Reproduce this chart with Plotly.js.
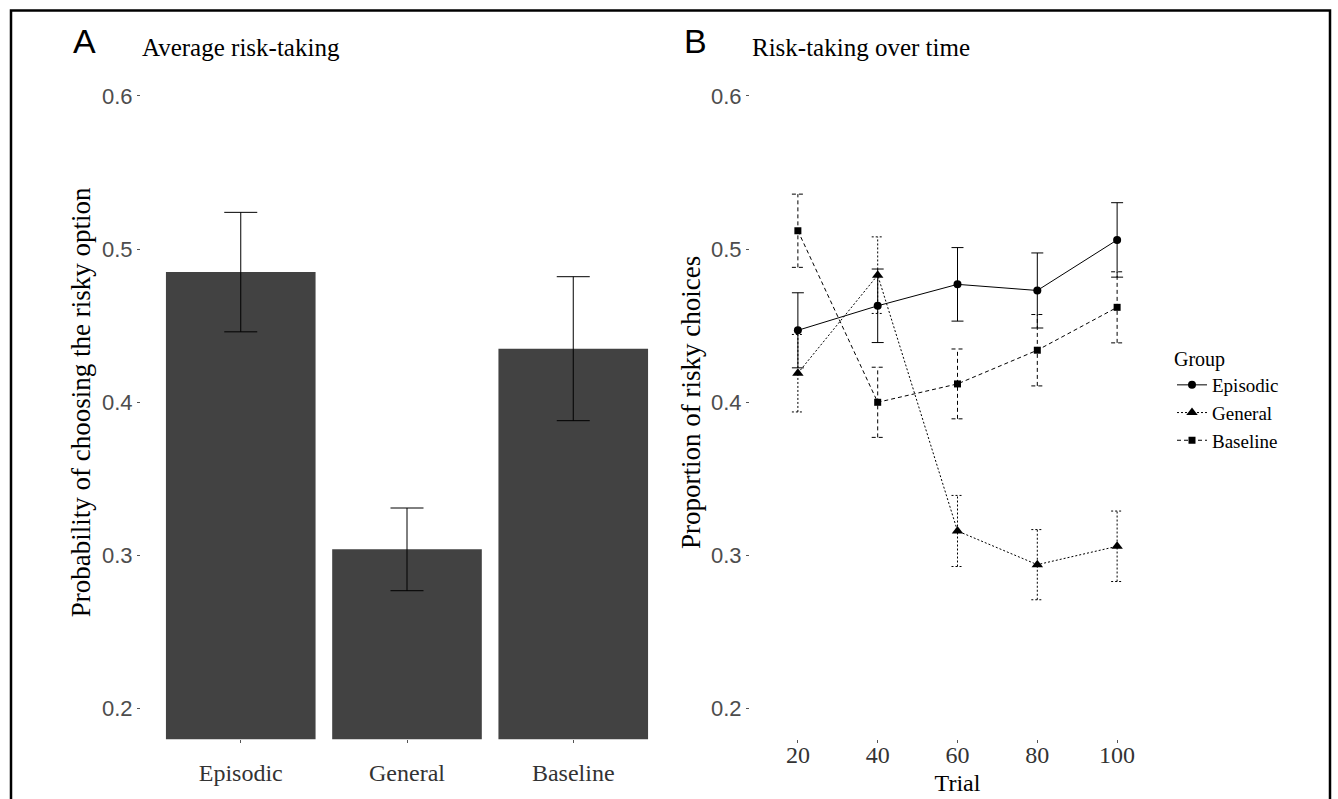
<!DOCTYPE html>
<html>
<head>
<meta charset="utf-8">
<script src="https://cdn.plot.ly/plotly-3.0.1.min.js"></script>
<style>html,body{margin:0;padding:0;background:#fff;}#chart{width:1338px;height:799px;}</style>
</head>
<body>
<div id="chart"></div>
<script>
// ---- data ----
const categories = ['Episodic', 'General', 'Baseline'];
const barMeans = [0.485, 0.304, 0.435];
const barSE = [0.039, 0.027, 0.047];

const trials = [20, 40, 60, 80, 100];
const episodic = [0.447, 0.463, 0.477, 0.473, 0.506];
const episodicSE = [0.0245, 0.024, 0.024, 0.0245, 0.0243];
const general = [0.419, 0.483, 0.316, 0.294, 0.306];
const generalSE = [0.0253, 0.025, 0.0232, 0.0229, 0.023];
const baseline = [0.512, 0.400, 0.412, 0.434, 0.462];
const baselineSE = [0.0239, 0.0229, 0.0228, 0.0233, 0.0232];

const yTicks = [0.2, 0.3, 0.4, 0.5, 0.6];

// ---- styles ----
const SERIF = 'Liberation Serif, Times New Roman, serif';
const SANS = 'Liberation Sans, Arial, sans-serif';
const W = 1338, H = 799;
const px = v => v / W;
const py = v => (H - v) / H;

function errTrace(xs, ys, se, dash, group) {
  const cap = 1.5;
  const X = [], Y = [];
  xs.forEach((x, i) => {
    const lo = ys[i] - se[i], hi = ys[i] + se[i];
    X.push(x, x, null, x - cap, x + cap, null, x - cap, x + cap, null);
    Y.push(lo, hi, null, hi, hi, null, lo, lo, null);
  });
  return {
    x: X, y: Y, xaxis: 'x2', yaxis: 'y2', mode: 'lines', type: 'scatter',
    line: {color: '#000', width: 1, dash: dash}, showlegend: false,
    legendgroup: group, hoverinfo: 'skip'
  };
}

const groups = [
  {name: 'Episodic', y: episodic, se: episodicSE, dash: 'solid', symbol: 'circle', size: 8},
  {name: 'General', y: general, se: generalSE, dash: '2px,2px', symbol: 'triangle-up', size: 10},
  {name: 'Baseline', y: baseline, se: baselineSE, dash: '4px,3px', symbol: 'square', size: 7}
];

const data = [{
  type: 'bar', x: categories, y: barMeans, xaxis: 'x', yaxis: 'y',
  marker: {color: '#424242'}, width: 0.9, showlegend: false,
  error_y: {type: 'data', array: barSE, visible: true, color: '#000', thickness: 1, width: 16.5}
}];

groups.forEach(g => {
  data.push(errTrace(trials, g.y, g.se, g.dash, g.name));
});
groups.forEach(g => {
  data.push({
    type: 'scatter', mode: 'lines+markers', name: g.name, x: trials, y: g.y,
    xaxis: 'x2', yaxis: 'y2', legendgroup: g.name,
    line: {color: '#000', width: 1, dash: g.dash},
    marker: {color: '#000', symbol: g.symbol, size: g.size}
  });
});

const yDomain = [py(739.3), py(65.3)];
const commonY = {
  domain: yDomain, range: [0.18, 0.62], tickvals: yTicks, tickformat: '.1f',
  showgrid: false, zeroline: false, showline: false,
  ticks: 'outside', ticklen: 3, tickcolor: '#555', tickwidth: 1,
  tickfont: {family: SANS, size: 22, color: '#4d4d4d'}
};

const layout = {
  width: W, height: H,
  margin: {l: 0, r: 0, t: 0, b: 0},
  paper_bgcolor: '#fff', plot_bgcolor: '#fff',
  showlegend: true,
  xaxis: {
    domain: [px(141), px(673)], anchor: 'y', type: 'category', range: [-0.6, 2.6],
    showgrid: false, zeroline: false, showline: false,
    ticks: 'outside', ticklen: 3, tickcolor: '#555',
    tickfont: {family: SERIF, size: 24, color: '#333'}, ticklabelstandoff: 9
  },
  yaxis: Object.assign({}, commonY, {
    anchor: 'x',
    title: {text: 'Probability of choosing the risky option', font: {family: SERIF, size: 27, color: '#000'}, standoff: 3}
  }),
  xaxis2: {
    domain: [px(750), px(1165)], anchor: 'y2', range: [8, 112], tickvals: trials,
    showgrid: false, zeroline: false, showline: false,
    ticks: 'outside', ticklen: 3, tickcolor: '#555',
    tickfont: {family: SERIF, size: 24, color: '#333'}, ticklabelstandoff: -9,
    title: {text: 'Trial', font: {family: SERIF, size: 24, color: '#000'}, standoff: 7}
  },
  yaxis2: Object.assign({}, commonY, {
    anchor: 'x2',
    title: {text: 'Proportion of risky choices', font: {family: SERIF, size: 27, color: '#000'}, standoff: 2}
  }),
  legend: {
    x: px(1172), xanchor: 'left', y: py(400), yanchor: 'middle',
    font: {family: SERIF, size: 19, color: '#000'},
    title: {text: 'Group', font: {family: SERIF, size: 20, color: '#000'}},
    bgcolor: 'rgba(0,0,0,0)', itemwidth: 30, tracegroupgap: 0
  },
  annotations: [
    {text: 'A', x: px(71), y: py(41), xref: 'paper', yref: 'paper', xanchor: 'left', yanchor: 'middle', showarrow: false, font: {family: SANS, size: 34, color: '#000'}},
    {text: 'Average risk-taking', x: px(140), y: py(47), xref: 'paper', yref: 'paper', xanchor: 'left', yanchor: 'middle', showarrow: false, font: {family: SERIF, size: 25, color: '#000'}},
    {text: 'B', x: px(682), y: py(41), xref: 'paper', yref: 'paper', xanchor: 'left', yanchor: 'middle', showarrow: false, font: {family: SANS, size: 34, color: '#000'}},
    {text: 'Risk-taking over time', x: px(750), y: py(47), xref: 'paper', yref: 'paper', xanchor: 'left', yanchor: 'middle', showarrow: false, font: {family: SERIF, size: 25, color: '#000'}}
  ],
  shapes: [
    {type: 'rect', xref: 'paper', yref: 'paper', x0: px(11), x1: px(1330), y0: -0.05, y1: py(10.5), line: {color: '#000', width: 2.5}, fillcolor: 'rgba(0,0,0,0)'}
  ]
};

Plotly.newPlot('chart', data, layout, {displayModeBar: false, staticPlot: true});
</script>
</body>
</html>
